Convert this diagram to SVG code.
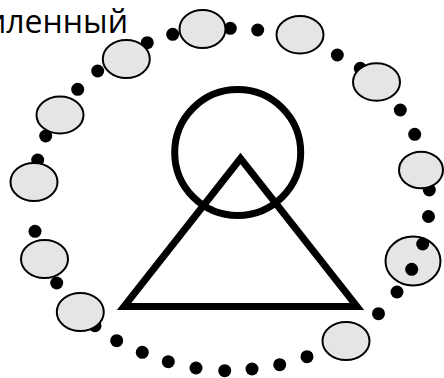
<svg xmlns="http://www.w3.org/2000/svg" width="444" height="378" viewBox="0 0 444 378">
<style>
.e{fill:#e5e5e5;stroke:#000;stroke-width:2}
.d{fill:#000}
.s{fill:none;stroke:#000;stroke-width:7}
.t{font-family:"Open Sans","Noto Sans",sans-serif;font-size:32px;fill:#000}
</style>
<rect width="444" height="378" fill="#fff"/>
<g id="label"><text class="t" x="128" y="33" text-anchor="end">иленный</text></g>
<g id="dots">
<circle class="d" cx="172.7" cy="34.3" r="6.5"/>
<circle class="d" cx="147.3" cy="42.7" r="6.5"/>
<circle class="d" cx="97.7" cy="71" r="6.5"/>
<circle class="d" cx="77.7" cy="89.3" r="6.5"/>
<circle class="d" cx="45.7" cy="136" r="6.5"/>
<circle class="d" cx="37.7" cy="160" r="6.5"/>
<circle class="d" cx="35" cy="231.3" r="6.5"/>
<circle class="d" cx="56.7" cy="283" r="6.5"/>
<circle class="d" cx="95" cy="325.7" r="6.5"/>
<circle class="d" cx="116.7" cy="340.7" r="6.5"/>
<circle class="d" cx="142.3" cy="352.3" r="6.5"/>
<circle class="d" cx="168.3" cy="361.7" r="6.5"/>
<circle class="d" cx="196" cy="368" r="6.5"/>
<circle class="d" cx="224.7" cy="370.7" r="6.5"/>
<circle class="d" cx="252" cy="369" r="6.5"/>
<circle class="d" cx="279.7" cy="364.7" r="6.5"/>
<circle class="d" cx="307" cy="356.7" r="6.5"/>
<circle class="d" cx="378.5" cy="313.7" r="6.5"/>
<circle class="d" cx="397" cy="292" r="6.5"/>
<circle class="d" cx="428.5" cy="216.5" r="6.5"/>
<circle class="d" cx="429.3" cy="190" r="6.5"/>
<circle class="d" cx="414.7" cy="134.3" r="6.5"/>
<circle class="d" cx="400.3" cy="110" r="6.5"/>
<circle class="d" cx="360.3" cy="68.3" r="6.5"/>
<circle class="d" cx="337.3" cy="55" r="6.5"/>
<circle class="d" cx="257.7" cy="30" r="6.5"/>
<circle class="d" cx="230.3" cy="28.3" r="6.5"/>
</g>
<g id="e1"><ellipse class="e" cx="202.5" cy="29" rx="23" ry="19"/></g>
<g id="e2"><ellipse class="e" cx="126.3" cy="59" rx="23.5" ry="19"/></g>
<g id="e3"><ellipse class="e" cx="60" cy="115" rx="23.5" ry="18.5"/></g>
<g id="e4"><ellipse class="e" cx="34" cy="182" rx="23.5" ry="19"/></g>
<g id="e5"><ellipse class="e" cx="44.5" cy="259" rx="23.5" ry="19"/></g>
<g id="e6"><ellipse class="e" cx="80.3" cy="312" rx="23.5" ry="19"/></g>
<g id="e7"><ellipse class="e" cx="346" cy="341" rx="23.5" ry="19"/></g>
<g id="e8"><ellipse class="e" cx="413" cy="261" rx="27.5" ry="24.5"/>
<circle class="d" cx="411.7" cy="269.3" r="6.5"/>
<circle class="d" cx="422.7" cy="244" r="6.5"/></g>
<g id="e9"><ellipse class="e" cx="300" cy="34.7" rx="23.5" ry="18.7"/></g>
<g id="e10"><ellipse class="e" cx="376.5" cy="82" rx="23.5" ry="18.7"/></g>
<g id="e11"><ellipse class="e" cx="421" cy="170" rx="22" ry="18.3"/></g>
<g id="circle"><circle class="s" cx="237.7" cy="152.5" r="63" stroke-width="6.5"/></g>
<g id="triangle"><polygon class="s" points="240.5,158.5 124,306.5 357,306.5" stroke-miterlimit="10"/></g>
</svg>
